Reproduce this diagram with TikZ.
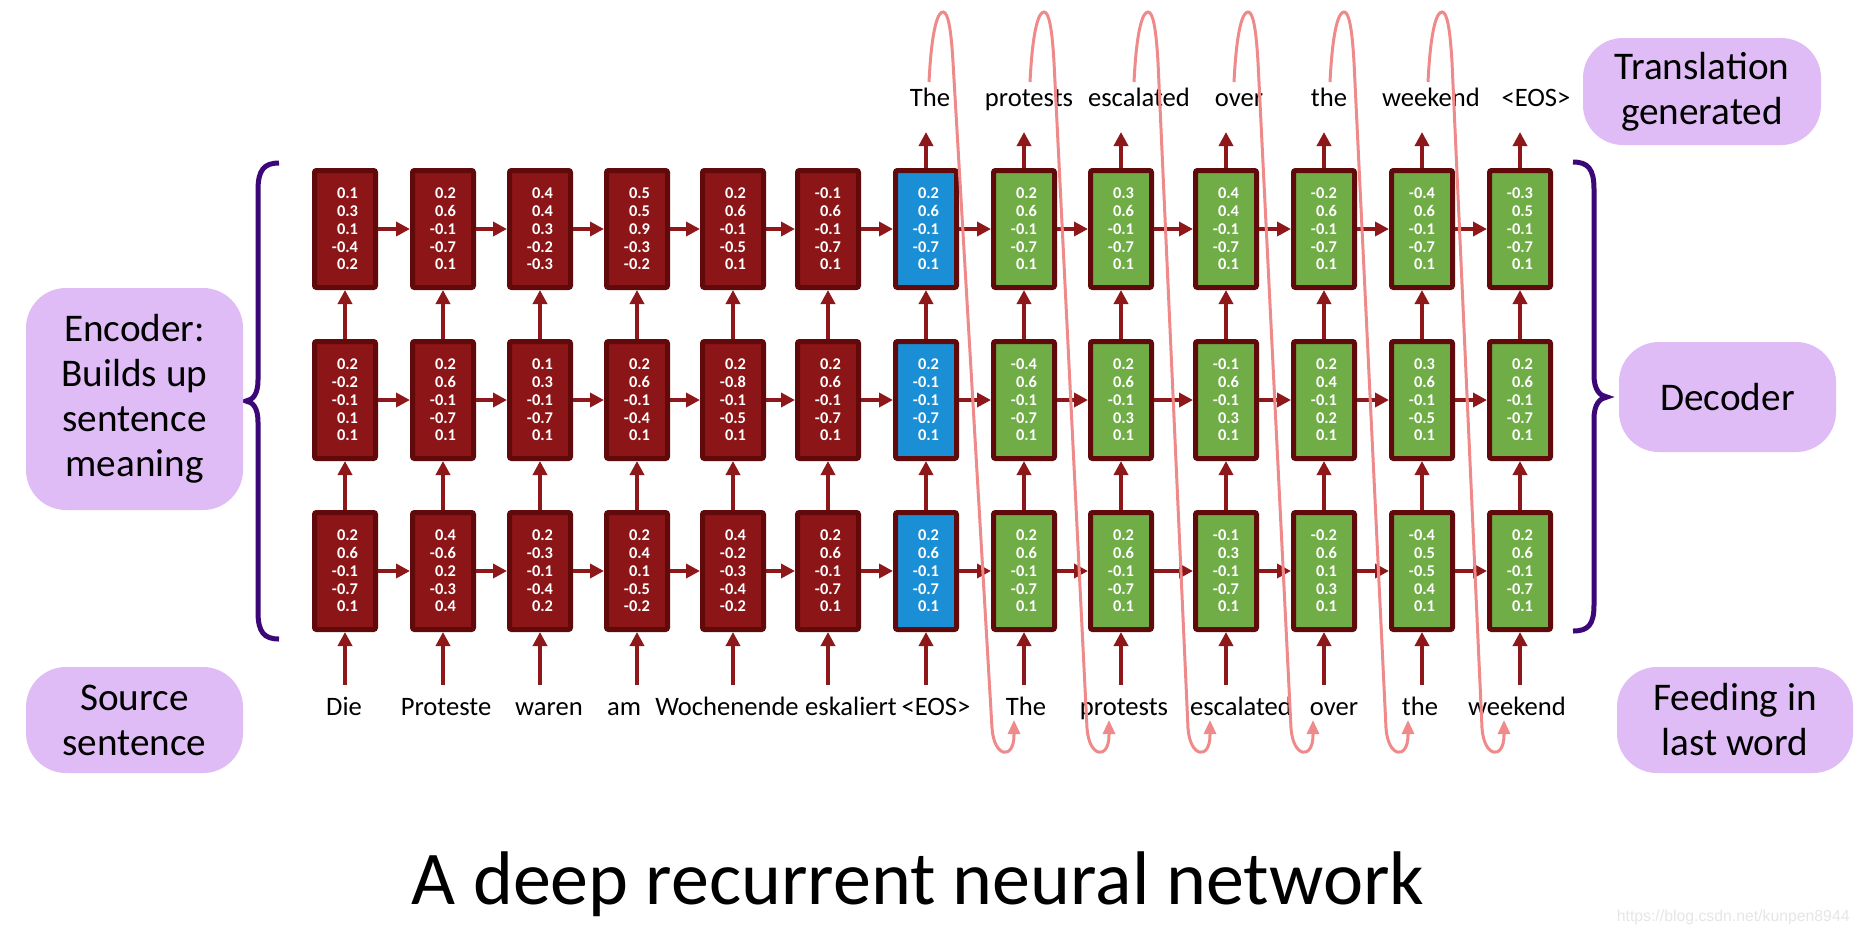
\documentclass[tikz,border=0pt]{standalone}
\usepackage{fontspec}
\setmainfont{Carlito}
\newfontfamily\wmfont{Liberation Sans}
\usetikzlibrary{arrows.meta}
\definecolor{encfill}{HTML}{8B1517}
\definecolor{boxborder}{HTML}{600A0C}
\definecolor{arrowred}{HTML}{8E1719}
\definecolor{decgreen}{HTML}{70AD47}
\definecolor{decblue}{HTML}{1A8FD6}
\definecolor{bubble}{HTML}{E0BCF6}
\definecolor{bracecol}{HTML}{3C0878}
\definecolor{looppink}{HTML}{EF8A8A}
\definecolor{wmgray}{HTML}{E6E6E6}
\begin{document}
\begin{tikzpicture}[x=0.5pt,y=-0.5pt,
 vec/.style={draw=boxborder, line width=2.5pt, minimum width=30.5pt, minimum height=58.5pt, inner sep=0pt, text=white, font=\fontsize{8.2}{8.85}\selectfont\bfseries, align=right, rounded corners=1pt},
 enc/.style={vec, fill=encfill},
 dec/.style={vec, fill=decgreen},
 eos/.style={vec, fill=decblue},
 conn/.style={draw=arrowred, line width=2pt, -{Triangle[length=7pt,width=7pt]}},
 word/.style={font=\fontsize{13.3}{16}\selectfont, inner sep=0pt, anchor=base},
 bub/.style={fill=bubble, font=\fontsize{19.6}{22.5}\selectfont, align=center, rounded corners=20pt, inner sep=0pt},
 loopline/.style={draw=looppink, line width=1.5pt, -{Triangle[length=7pt,width=6pt]}},
 bracestyle/.style={draw=bracecol, line width=2.5pt}
]
\useasboundingbox (0,0) rectangle (1860,934);
\fill[white] (0,0) rectangle (1860,934);

% top row
\node[enc] (t0) at (345,229) {0.1\\0.3\\0.1\\-0.4\\0.2};
\node[enc] (t1) at (443,229) {0.2\\0.6\\-0.1\\-0.7\\0.1};
\node[enc] (t2) at (540,229) {0.4\\0.4\\0.3\\-0.2\\-0.3};
\node[enc] (t3) at (637,229) {0.5\\0.5\\0.9\\-0.3\\-0.2};
\node[enc] (t4) at (733,229) {0.2\\0.6\\-0.1\\-0.5\\0.1};
\node[enc] (t5) at (828,229) {-0.1\\0.6\\-0.1\\-0.7\\0.1};
\node[eos] (t6) at (926,229) {0.2\\0.6\\-0.1\\-0.7\\0.1};
\node[dec] (t7) at (1024,229) {0.2\\0.6\\-0.1\\-0.7\\0.1};
\node[dec] (t8) at (1121,229) {0.3\\0.6\\-0.1\\-0.7\\0.1};
\node[dec] (t9) at (1226,229) {0.4\\0.4\\-0.1\\-0.7\\0.1};
\node[dec] (t10) at (1324,229) {-0.2\\0.6\\-0.1\\-0.7\\0.1};
\node[dec] (t11) at (1422,229) {-0.4\\0.6\\-0.1\\-0.7\\0.1};
\node[dec] (t12) at (1520,229) {-0.3\\0.5\\-0.1\\-0.7\\0.1};
% middle row
\node[enc] (m0) at (345,400) {0.2\\-0.2\\-0.1\\0.1\\0.1};
\node[enc] (m1) at (443,400) {0.2\\0.6\\-0.1\\-0.7\\0.1};
\node[enc] (m2) at (540,400) {0.1\\0.3\\-0.1\\-0.7\\0.1};
\node[enc] (m3) at (637,400) {0.2\\0.6\\-0.1\\-0.4\\0.1};
\node[enc] (m4) at (733,400) {0.2\\-0.8\\-0.1\\-0.5\\0.1};
\node[enc] (m5) at (828,400) {0.2\\0.6\\-0.1\\-0.7\\0.1};
\node[eos] (m6) at (926,400) {0.2\\-0.1\\-0.1\\-0.7\\0.1};
\node[dec] (m7) at (1024,400) {-0.4\\0.6\\-0.1\\-0.7\\0.1};
\node[dec] (m8) at (1121,400) {0.2\\0.6\\-0.1\\0.3\\0.1};
\node[dec] (m9) at (1226,400) {-0.1\\0.6\\-0.1\\0.3\\0.1};
\node[dec] (m10) at (1324,400) {0.2\\0.4\\-0.1\\0.2\\0.1};
\node[dec] (m11) at (1422,400) {0.3\\0.6\\-0.1\\-0.5\\0.1};
\node[dec] (m12) at (1520,400) {0.2\\0.6\\-0.1\\-0.7\\0.1};
% bottom row
\node[enc] (b0) at (345,571) {0.2\\0.6\\-0.1\\-0.7\\0.1};
\node[enc] (b1) at (443,571) {0.4\\-0.6\\0.2\\-0.3\\0.4};
\node[enc] (b2) at (540,571) {0.2\\-0.3\\-0.1\\-0.4\\0.2};
\node[enc] (b3) at (637,571) {0.2\\0.4\\0.1\\-0.5\\-0.2};
\node[enc] (b4) at (733,571) {0.4\\-0.2\\-0.3\\-0.4\\-0.2};
\node[enc] (b5) at (828,571) {0.2\\0.6\\-0.1\\-0.7\\0.1};
\node[eos] (b6) at (926,571) {0.2\\0.6\\-0.1\\-0.7\\0.1};
\node[dec] (b7) at (1024,571) {0.2\\0.6\\-0.1\\-0.7\\0.1};
\node[dec] (b8) at (1121,571) {0.2\\0.6\\-0.1\\-0.7\\0.1};
\node[dec] (b9) at (1226,571) {-0.1\\0.3\\-0.1\\-0.7\\0.1};
\node[dec] (b10) at (1324,571) {-0.2\\0.6\\0.1\\0.3\\0.1};
\node[dec] (b11) at (1422,571) {-0.4\\0.5\\-0.5\\0.4\\0.1};
\node[dec] (b12) at (1520,571) {0.2\\0.6\\-0.1\\-0.7\\0.1};

% recurrent and stacked connectors
\foreach \i in {0,...,11}{
  \pgfmathtruncatemacro\j{\i+1}
  \draw[conn] (t\i.east) -- (t\j.west);
  \draw[conn] (m\i.east) -- (m\j.west);
  \draw[conn] (b\i.east) -- (b\j.west);
}
\foreach \i/\x in {0/345,1/443,2/540,3/637,4/733,5/828,6/926,7/1024,8/1121,9/1226,10/1324,11/1422,12/1520}{
  \draw[conn] (b\i.north) -- (m\i.south);
  \draw[conn] (m\i.north) -- (t\i.south);
  \coordinate (in\i) at (\x,685);
  \draw[conn] (in\i) -- (b\i.south);
}
\foreach \i/\x in {6/926,7/1024,8/1121,9/1226,10/1324,11/1422,12/1520}{
  \coordinate (out\i) at (\x,132);
  \draw[conn] (t\i.north) -- (out\i);
}

% source words
\node[word] (s0) at (344,715) {Die};
\node[word] (s1) at (446,715) {Proteste};
\node[word] (s2) at (549,715) {waren};
\node[word] (s3) at (624,715) {am};
\node[word] (s4) at (727,715) {Wochenende};
\node[word] (s5) at (851,715) {eskaliert};
\node[word] (s6) at (936,715) {<EOS>};
\node[word] (s7) at (1026,715) {The};
\node[word] (s8) at (1124,715) {protests};
\node[word] (s9) at (1241,715) {escalated};
\node[word] (s10) at (1334,715) {over};
\node[word] (s11) at (1420,715) {the};
\node[word] (s12) at (1517,715) {weekend};
% generated words
\node[word] (g6) at (930,106) {The};
\node[word] (g7) at (1029,106) {protests};
\node[word] (g8) at (1139,106) {escalated};
\node[word] (g9) at (1239,106) {over};
\node[word] (g10) at (1329,106) {the};
\node[word] (g11) at (1431,106) {weekend};
\node[word] (g12) at (1536,106) {<EOS>};

% feedback loops
\foreach \P/\T in {943/1014, 1044/1109, 1148/1210, 1248/1313, 1344/1408, 1442/1504}{
  \draw[loopline] ({\P-14},82) .. controls ({\P-11},22) and ({\P-4},12) .. (\P,12)
     .. controls ({\P+5},12) and ({\P+8},28) .. ({\P+10},62)
     -- ({\T-22},728) .. controls ({\T-20},758) and (\T,760) .. (\T,735) -- (\T,720);
}

% braces
\draw[bracestyle] (279,163) .. controls (264,163) and (258,170) .. (258,190) -- (258,380)
  .. controls (258,394) and (253,400) .. (246,401) .. controls (253,402) and (258,408) .. (258,422)
  -- (258,612) .. controls (258,632) and (264,639) .. (279,639);
\draw[bracestyle] (1573,162) .. controls (1588,162) and (1594,169) .. (1594,189) -- (1594,375)
  .. controls (1594,390) and (1600,396) .. (1607,397) .. controls (1600,398) and (1594,404) .. (1594,419)
  -- (1594,605) .. controls (1594,625) and (1588,631) .. (1573,631);

% bubbles
\node[bub, minimum width=119pt, minimum height=53.5pt] (bt) at (1702,91.5) {Translation\\generated};
\node[bub, minimum width=108.5pt, minimum height=111pt] (be) at (134.5,399) {Encoder:\\Builds up\\sentence\\meaning};
\node[bub, minimum width=108.5pt, minimum height=55pt] (bd) at (1727.5,397) {Decoder};
\node[bub, minimum width=108.5pt, minimum height=53pt] (bs) at (134.5,720) {Source\\sentence};
\node[bub, minimum width=118pt, minimum height=53pt] (bf) at (1735,720) {Feeding in\\last word};

% title
\node[font=\fontsize{38}{40}\selectfont, anchor=base, inner sep=0pt] (title) at (918,904) {A deep recurrent neural network};
% watermark
\node[font=\wmfont\fontsize{7.9}{9}\selectfont, text=wmgray, anchor=base east, inner sep=0pt] (wm) at (1850,921) {https://blog.csdn.net/kunpen8944};
\end{tikzpicture}
\end{document}
